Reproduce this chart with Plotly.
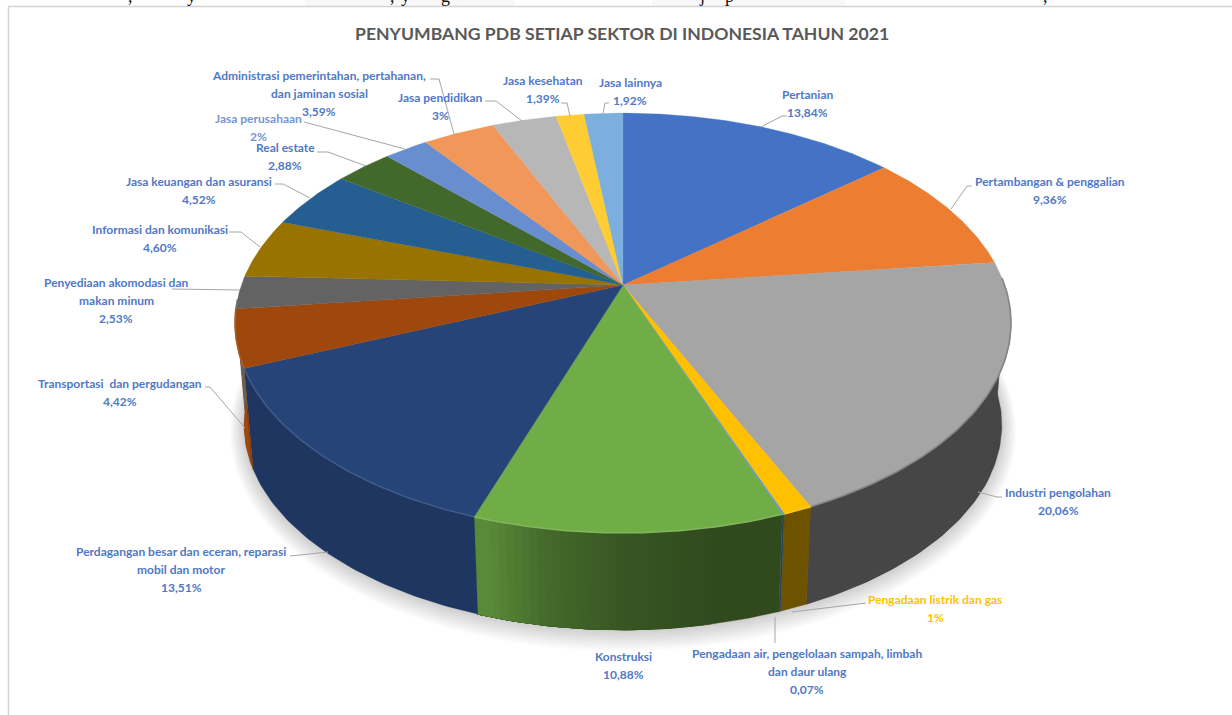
import numpy as np
import plotly.graph_objects as go

# ---- data ----
sektor = [
    "Pertanian", "Pertambangan & penggalian", "Industri pengolahan",
    "Pengadaan listrik dan gas",
    "Pengadaan air, pengelolaan sampah, limbah<br>dan daur ulang", "Konstruksi",
    "Perdagangan besar dan eceran, reparasi<br>mobil dan motor",
    "Transportasi  dan pergudangan",
    "Penyediaan akomodasi dan<br>makan minum", "Informasi dan komunikasi",
    "Jasa keuangan dan asuransi", "Real estate", "Jasa perusahaan",
    "Administrasi pemerintahan, pertahanan,<br>dan jaminan sosial",
    "Jasa pendidikan", "Jasa kesehatan", "Jasa lainnya",
]
# the three labels shown rounded (1%, 2%, 3%) are estimated from the drawn slice widths
nilai = [13.84, 9.36, 20.06, 1.03, 0.07, 10.88, 13.51, 4.42, 2.53, 4.60, 4.52, 2.88, 2.2, 3.59, 3.2, 1.39, 1.92]
nilai_teks = ["13,84%", "9,36%", "20,06%", "1%", "0,07%", "10,88%", "13,51%", "4,42%", "2,53%",
              "4,60%", "4,52%", "2,88%", "2%", "3,59%", "3%", "1,39%", "1,92%"]
judul = "PENYUMBANG PDB SETIAP SEKTOR DI INDONESIA TAHUN 2021"

# ---- styling ----
warna = ["#4472C4", "#ED7D31", "#A5A5A5", "#FFC000", "#5B9BD5", "#70AD47", "#264478", "#9E480E",
         "#636363", "#997300", "#255E91", "#43682B", "#698ED0", "#F1975A", "#B7B7B7", "#FFCD33", "#7CAFDD"]
warna_label = ["#4f78c6"] * 17
warna_label[3] = "#FFC000"
warna_label[12] = "#7496d4"
# centre x and first-line y of every label
label_pos = [(807, 94), (1050, 181), (1058, 492), (935, 599), (807, 653), (623, 656), (181, 551),
             (120, 383), (116, 282), (160, 229), (199, 181), (285, 147), (258, 118), (319, 75),
             (440, 97), (543, 80), (630, 82)]
JARAK_BARIS = 18
leader = [
    [(761, 127), (782, 116), (787, 116)], [(951, 209), (967, 186), (972, 186)],
    [(978, 492), (997, 497), (1002, 497)], [(792, 612), (862, 603), (866, 603)],
    [(775, 617), (775, 643)], None, [(328, 552), (290, 556)],
    [(245, 428), (210, 387), (205, 387)], [(240, 290), (172, 289)],
    [(229, 232), (241, 232), (260, 247)], [(275, 184), (283, 184), (310, 198)],
    [(317, 152), (328, 152), (366, 166)], [(304, 122), (405, 149)],
    [(430, 79), (439, 79), (454, 134)], [(485, 101), (496, 101), (522, 121)],
    [(561, 103), (567, 103), (570, 116)], [(609, 103), (605, 103), (603, 114)],
]
fragmen = [(",", 130), ("y", 191), (",", 392), ("y", 405), ("g", 445), ("j", 702), ("p", 729), (",", 1045)]

CX, CY, A, B, P = 623.0, 285.0, 381.6, 203.0, 0.181
CY2, A2, B2 = 388.0, 372.6, 198.0


def proyeksi(theta, cy, a, b):
    t = np.radians(theta)
    X, Y = np.sin(t), np.cos(t)
    w = 1 + P * Y
    return CX + a * X / w, cy - b * Y / w


def campur(hexa, f, ke=(0, 0, 0)):
    c = np.array([int(hexa[i:i + 2], 16) for i in (1, 3, 5)], float)
    r = c * f + np.array(ke) * (1 - f)
    return "rgb(%d,%d,%d)" % tuple(r)


fig = go.Figure()


def poligon(x, y, warna_isi, garis=None, lebar=0.6):
    fig.add_trace(go.Scatter(x=x, y=y, mode="lines", fill="toself", fillcolor=warna_isi,
                             line=dict(color=garis or warna_isi, width=lebar),
                             hoverinfo="skip", showlegend=False))


# soft shadow under the pie
th = np.linspace(0, 360, 361)
for k in range(16, 0, -1):
    sx, sy = proyeksi(th, CY2 + k * 0.25, A2 + k * 0.9, B2 + k * 0.9)
    poligon(sx, sy, "rgba(0,0,0,0.011)", "rgba(0,0,0,0)", 0)

total = sum(nilai)
batas = np.concatenate([[0], np.cumsum(nilai)]) / total * 360


def bayangan(t):
    return np.interp(t, [75, 168, 180, 190, 197, 248, 249, 285], [0.42, 0.43, 0.50, 0.62, 0.80, 0.80, 1.0, 1.0])


# side wall (front-facing part only): each band runs to the end of its slice, so
# later bands paint over the previous edge and no seams show
for i, hx in enumerate(warna):
    a0, a1 = max(batas[i], 90), min(batas[i + 1], 266)
    if a1 <= a0:
        continue
    terakhir = None
    for t0 in np.arange(a0, a1, 1.0):
        c = campur(hx, bayangan(t0 + 0.5))
        if c == terakhir:
            continue
        terakhir = c
        tt = np.append(np.arange(t0, a1, 1.0), a1)
        qx0, qy0 = proyeksi(tt, CY, A, B)
        qx1, qy1 = proyeksi(tt[::-1], CY2, A2, B2)
        poligon(np.r_[qx0, qx1, qx0[0]], np.r_[qy0, qy1, qy0[0]], c, c, 0.3)

# top face
for i, hx in enumerate(warna):
    busur = np.linspace(batas[i], batas[i + 1], max(3, int((batas[i + 1] - batas[i]) * 2)))
    bx, by = proyeksi(busur, CY, A, B)
    poligon(np.r_[CX, bx, CX], np.r_[CY, by, CY], hx, hx, 0.3)

# lit rim along the front of the top face
for i, hx in enumerate(warna):
    a0, a1 = max(batas[i], 88), min(batas[i + 1], 266)
    if a1 <= a0:
        continue
    rx, ry = proyeksi(np.linspace(a0, a1, 60), CY, A, B)
    fig.add_trace(go.Scatter(x=rx, y=ry, mode="lines",
                             line=dict(color=campur(hx, 0.88, (255, 255, 255)) if i != 2 else "#858585", width=1.6),
                             hoverinfo="skip", showlegend=False))

# leader lines
for seg in leader:
    if seg:
        fig.add_trace(go.Scatter(x=[p[0] for p in seg], y=[p[1] for p in seg], mode="lines",
                                 line=dict(color="#a6a6a6", width=1), hoverinfo="skip", showlegend=False))

anot = []
for nama, teks, c, (lx, ly) in zip(sektor, nilai_teks, warna_label, label_pos):
    for n, baris in enumerate(nama.split("<br>") + [teks]):
        anot.append(dict(x=lx, y=ly + n * JARAK_BARIS, text=baris, showarrow=False, xanchor="center",
                         yanchor="middle", font=dict(family="Lato", size=12, color=c, weight="bold")))
anot.append(dict(x=622, y=33, text=judul, showarrow=False, xanchor="center", yanchor="middle",
                 font=dict(family="Lato", size=17.6, color="#595959", weight="bold")))
for ch, fx in fragmen:
    anot.append(dict(x=fx, y=8, text=ch, showarrow=False, xanchor="center", yanchor="bottom",
                     font=dict(family="Liberation Serif", size=18, color="#111111")))

fig.update_layout(
    width=1232, height=715, margin=dict(l=0, r=0, t=0, b=0),
    paper_bgcolor="white", plot_bgcolor="white", showlegend=False,
    xaxis=dict(range=[0, 1232], visible=False, fixedrange=True),
    yaxis=dict(range=[715, 0], visible=False, fixedrange=True),
    annotations=anot,
    shapes=[
        dict(type="rect", x0=305, x1=515, y0=0, y1=6, fillcolor="#f8f8f8", line_width=0, layer="below"),
        dict(type="rect", x0=652, x1=845, y0=0, y1=6, fillcolor="#f8f8f8", line_width=0, layer="below"),
        dict(type="line", x0=8, x1=1232, y0=6.5, y1=6.5, line=dict(color="#d4d4d4", width=1.5)),
        dict(type="line", x0=8.5, x1=8.5, y0=6.5, y1=715, line=dict(color="#d4d4d4", width=1.5)),
    ],
)
fig.write_html("out.html", config=dict(displayModeBar=False),
               post_script="document.body.style.margin='0';document.documentElement.style.overflow='hidden';")
